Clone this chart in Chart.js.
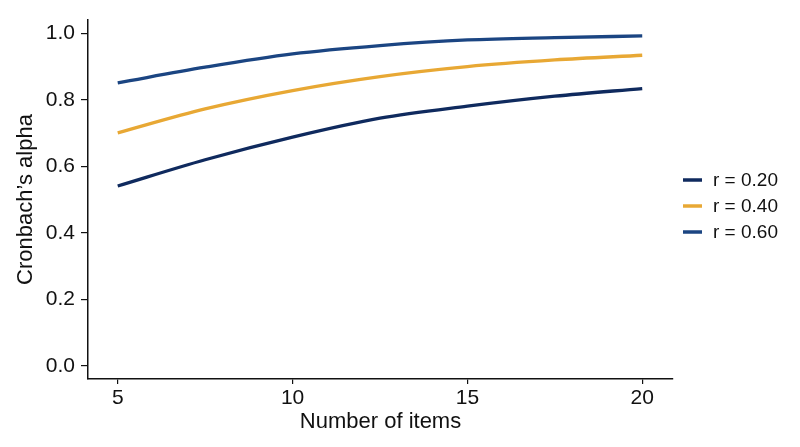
<!DOCTYPE html>
<html>
<head>
<meta charset="utf-8">
<script src="https://cdn.jsdelivr.net/npm/chart.js@4/dist/chart.umd.min.js"></script>
<style>
    html, body { margin: 0; padding: 0; background: #fff; }
    #wrap { width: 800px; height: 447px; position: relative; }
</style>
</head>
<body>
<div id="wrap"><canvas id="alphaChart"></canvas></div>
<script>
// number of items where the curves were read
var items = [5, 7.5, 10, 12.5, 15, 17.5, 20];

// Cronbach's alpha
var alphaR20 = [0.541, 0.620, 0.688, 0.745, 0.781, 0.811, 0.834];
var alphaR40 = [0.701, 0.773, 0.828, 0.870, 0.900, 0.920, 0.934];
var alphaR60 = [0.851, 0.898, 0.938, 0.963, 0.980, 0.987, 0.992];

var seriesLabels = ['r = 0.20', 'r = 0.40', 'r = 0.60'];
var xTicks = [5, 10, 15, 20];
var yTicks = [0, 0.2, 0.4, 0.6, 0.8, 1.0];

(function () {
    var FONT = '"Liberation Sans", Arial, Helvetica, sans-serif';
    var colors = ['#0f2a5e', '#e8a834', '#1b4582'];

    function toPoints(values) {
        return values.map(function (v, i) { return { x: items[i], y: v }; });
    }

    function makeSet(label, values, color) {
        return {
            label: label,
            data: toPoints(values),
            borderColor: color,
            backgroundColor: color,
            borderWidth: 3.3,
            pointRadius: 0,
            cubicInterpolationMode: 'monotone',
            fill: false
        };
    }

    // legend drawn to the right of the plot, like the original
    var sideLegend = {
        id: 'sideLegend',
        afterDraw: function (chart) {
            var ctx = chart.ctx;
            var area = chart.chartArea;
            var mid = (area.top + area.bottom) / 2 + 6.5;
            var gap = 26;
            ctx.save();
            ctx.font = '19px ' + FONT;
            ctx.textBaseline = 'middle';
            chart.data.datasets.forEach(function (ds, i) {
                var y = mid + (i - 1) * gap;
                ctx.strokeStyle = ds.borderColor;
                ctx.lineWidth = 3.5;
                ctx.beginPath();
                ctx.moveTo(area.right + 10, y);
                ctx.lineTo(area.right + 29, y);
                ctx.stroke();
                ctx.fillStyle = '#111';
                ctx.fillText(ds.label, area.right + 40, y + 1);
            });
            ctx.restore();
        }
    };

    new Chart(document.getElementById('alphaChart').getContext('2d'), {
        type: 'line',
        data: {
            datasets: [
                makeSet(seriesLabels[0], alphaR20, colors[0]),
                makeSet(seriesLabels[1], alphaR40, colors[1]),
                makeSet(seriesLabels[2], alphaR60, colors[2])
            ]
        },
        options: {
            responsive: true,
            maintainAspectRatio: false,
            animation: false,
            layout: { padding: { top: 20, right: 127, bottom: 0, left: 0 } },
            plugins: {
                legend: { display: false },
                tooltip: { enabled: false }
            },
            scales: {
                x: {
                    type: 'linear',
                    min: 4.15,
                    max: 20.88,
                    afterBuildTicks: function (scale) {
                        scale.ticks = xTicks.map(function (v) { return { value: v }; });
                    },
                    afterFit: function (scale) { scale.height = 68; },
                    grid: { drawOnChartArea: false, drawTicks: true, tickLength: 5, color: '#111', lineWidth: 1.2 },
                    border: { display: true, color: '#111', width: 1.5 },
                    ticks: { color: '#111', font: { family: FONT, size: 21 }, padding: 2, maxRotation: 0 },
                    title: {
                        display: true,
                        text: 'Number of items',
                        color: '#111',
                        font: { family: FONT, size: 22 },
                        padding: { top: 2, bottom: 12 }
                    }
                },
                y: {
                    min: -0.039,
                    max: 1.04,
                    afterBuildTicks: function (scale) {
                        scale.ticks = yTicks.map(function (v) { return { value: v }; });
                    },
                    afterFit: function (scale) { scale.width = 88; },
                    grid: { drawOnChartArea: false, drawTicks: true, tickLength: 7, color: '#111', lineWidth: 1.2 },
                    border: { display: true, color: '#111', width: 1.5 },
                    ticks: {
                        color: '#111',
                        font: { family: FONT, size: 21 },
                        padding: 6,
                        callback: function (value) { return Number(value).toFixed(1); }
                    },
                    title: {
                        display: true,
                        text: 'Cronbach\u2019s alpha',
                        color: '#111',
                        font: { family: FONT, size: 22 },
                        padding: { top: 13, bottom: 0 }
                    }
                }
            }
        },
        plugins: [sideLegend]
    });
})();
</script>
</body>
</html>
